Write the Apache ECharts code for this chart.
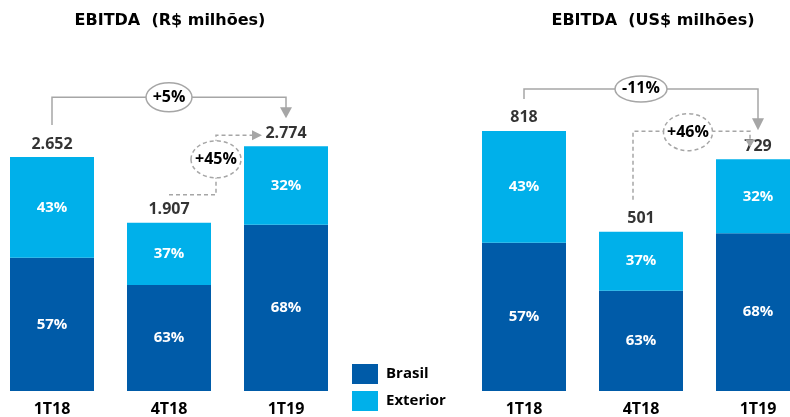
<!DOCTYPE html>
<html>
<head>
<meta charset="utf-8">
<script src="https://cdn.jsdelivr.net/npm/echarts@6/dist/echarts.min.js"></script>
<style>
html,body{margin:0;padding:0;background:#fff;}
#chart{width:790px;height:417px;}
</style>
</head>
<body>
<div id="chart"></div>
<script>
const categories = ['1T18', '4T18', '1T19'];
const totalBRL = [2652, 1907, 2774];
const brasilPctBRL = [57, 63, 68];
const exteriorPctBRL = [43, 37, 32];
const totalUSD = [818, 501, 729];
const brasilPctUSD = [57, 63, 68];
const exteriorPctUSD = [43, 37, 32];
const changeLabels = ['+5%', '+45%', '-11%', '+46%'];
const titles = ['EBITDA  (R$ milhões)', 'EBITDA  (US$ milhões)'];
const fmtBRL = ['2.652', '1.907', '2.774'];
const legendNames = ['Brasil', 'Exterior'];

const DARK = '#005BA8';
const LIGHT = '#00B0EA';
const GRAY = '#A6A6A6';
const FONT = 'Open Sans';

const chart = echarts.init(document.getElementById('chart'), null, {renderer: 'canvas'});

function panelSeries(idx, totals, bPct, ePct, labelsText) {
  const brasil = totals.map((t, i) => t * bPct[i] / 100);
  const exterior = totals.map((t, i) => t - brasil[i]);
  const inLabel = (pcts) => ({
    show: true, position: 'inside', color: '#fff', fontWeight: 'bold',
    fontSize: 15, fontFamily: FONT, formatter: p => pcts[p.dataIndex] + '%'
  });
  return [
    {name: legendNames[0], type: 'bar', xAxisIndex: idx, yAxisIndex: idx, stack: 's' + idx,
     barWidth: 84, data: brasil, itemStyle: {color: DARK}, label: inLabel(bPct)},
    {name: legendNames[1], type: 'bar', xAxisIndex: idx, yAxisIndex: idx, stack: 's' + idx,
     barWidth: 84, data: exterior, itemStyle: {color: LIGHT}, label: inLabel(ePct)},
    {name: 'total' + idx, type: 'scatter', xAxisIndex: idx, yAxisIndex: idx, symbolSize: 0,
     data: totals, silent: true,
     label: {show: true, position: 'top', distance: 5, color: '#000', fontWeight: 'bold',
             fontSize: 16, fontFamily: FONT, formatter: p => labelsText[p.dataIndex]}}
  ];
}

const xAxisBase = (gi) => ({
  type: 'category', gridIndex: gi, data: categories, boundaryGap: false,
  axisLine: {show: false}, axisTick: {show: false}, splitLine: {show: false},
  axisLabel: {color: '#000', fontWeight: 'bold', fontSize: 16, fontFamily: FONT, margin: 10}
});

const legendBase = (name, top) => ({
  data: [name], orient: 'vertical', left: 352, top: top, padding: 0,
  itemWidth: 26, itemHeight: 20, icon: 'rect', selectedMode: false,
  textStyle: {color: '#000', fontWeight: 'bold', fontSize: 15, fontFamily: FONT, padding: [0, 0, 0, 3]}
});

chart.setOption({
  animation: false,
  title: [
    {text: titles[0], left: 170, top: 13, textAlign: 'center', padding: 0,
     textStyle: {fontFamily: 'DejaVu Sans', fontWeight: 'bold', fontSize: 16, color: '#000'}},
    {text: titles[1], left: 653, top: 13, textAlign: 'center', padding: 0,
     textStyle: {fontFamily: 'DejaVu Sans', fontWeight: 'bold', fontSize: 16, color: '#000'}}
  ],
  legend: [legendBase(legendNames[0], 364), legendBase(legendNames[1], 391)],
  grid: [
    {left: 52, width: 234, top: 126.4, height: 264.6},
    {left: 524, width: 234, top: 104.8, height: 286.2}
  ],
  xAxis: [xAxisBase(0), xAxisBase(1)],
  yAxis: [
    {type: 'value', gridIndex: 0, min: 0, max: 3000, show: false, splitLine: {show: false}},
    {type: 'value', gridIndex: 1, min: 0, max: 900, show: false, splitLine: {show: false}}
  ],
  series: [
    ...panelSeries(0, totalBRL, brasilPctBRL, exteriorPctBRL, fmtBRL),
    ...panelSeries(1, totalUSD, brasilPctUSD, exteriorPctUSD, totalUSD.map(String))
  ]
});

function line(points, dashed) {
  return {type: 'polyline', z: 10, shape: {points},
          style: {stroke: GRAY, lineWidth: 1.5, fill: null, lineDash: dashed ? [4, 3] : null}};
}
function head(points) {
  return {type: 'polygon', z: 10, shape: {points}, style: {fill: GRAY}};
}
function bubble(cx, cy, rx, ry, txt, dashed) {
  return [
    {type: 'ellipse', z: 11, shape: {cx, cy, rx, ry},
     style: {fill: '#fff', stroke: GRAY, lineWidth: 1.5, lineDash: dashed ? [4, 3] : null}},
    {type: 'text', z: 12, style: {text: txt, x: cx, y: cy, align: 'center', verticalAlign: 'middle',
     fill: '#000', font: 'bold 16px "' + FONT + '"'}}
  ];
}

function buildAnnotations() {
  const P = (g, i, v) => chart.convertToPixel({xAxisIndex: g, yAxisIndex: g}, [i, v]);
  const els = [];
  // Left panel
  let [x0, t0] = P(0, 0, totalBRL[0]);
  let [x1, t1] = P(0, 1, totalBRL[1]);
  let [x2, t2] = P(0, 2, totalBRL[2]);
  let yh = t2 - 49;
  els.push(line([[x0, t0 - 32], [x0, yh], [x2, yh], [x2, t2 - 38]], false));
  els.push(head([[x2 - 6, t2 - 39], [x2 + 6, t2 - 39], [x2, t2 - 28]]));
  els.push(...bubble(x1, yh, 23, 14.5, changeLabels[0], false));
  els.push(line([[x1, t1 - 28], [x1 + 47, t1 - 28], [x1 + 47, t2 - 11], [x2 - 33, t2 - 11]], true));
  els.push(head([[x2 - 34, t2 - 16], [x2 - 34, t2 - 6], [x2 - 24, t2 - 11]]));
  els.push(...bubble(x1 + 47, t2 + 13, 25, 18.5, changeLabels[1], true));
  // Right panel
  [x0, t0] = P(1, 0, totalUSD[0]);
  [x1, t1] = P(1, 1, totalUSD[1]);
  [x2, t2] = P(1, 2, totalUSD[2]);
  yh = t0 - 42;
  els.push(line([[x0, t0 - 32], [x0, yh], [x2, yh], [x2, t2 - 40]], false));
  els.push(head([[x2 - 6, t2 - 41], [x2 + 6, t2 - 41], [x2, t2 - 29]]));
  els.push(...bubble(x1, yh, 26, 13, changeLabels[2], false));
  els.push(line([[x1 - 8, t1 - 32], [x1 - 8, t2 - 28], [x2 - 8, t2 - 28], [x2 - 8, t2 - 19]], true));
  els.push(head([[x2 - 13, t2 - 20], [x2 - 3, t2 - 20], [x2 - 8, t2 - 12]]));
  els.push(...bubble(x1 + 47, t2 - 27, 24.5, 18.5, changeLabels[3], true));
  chart.setOption({graphic: els});
}
buildAnnotations();
</script>
</body>
</html>
